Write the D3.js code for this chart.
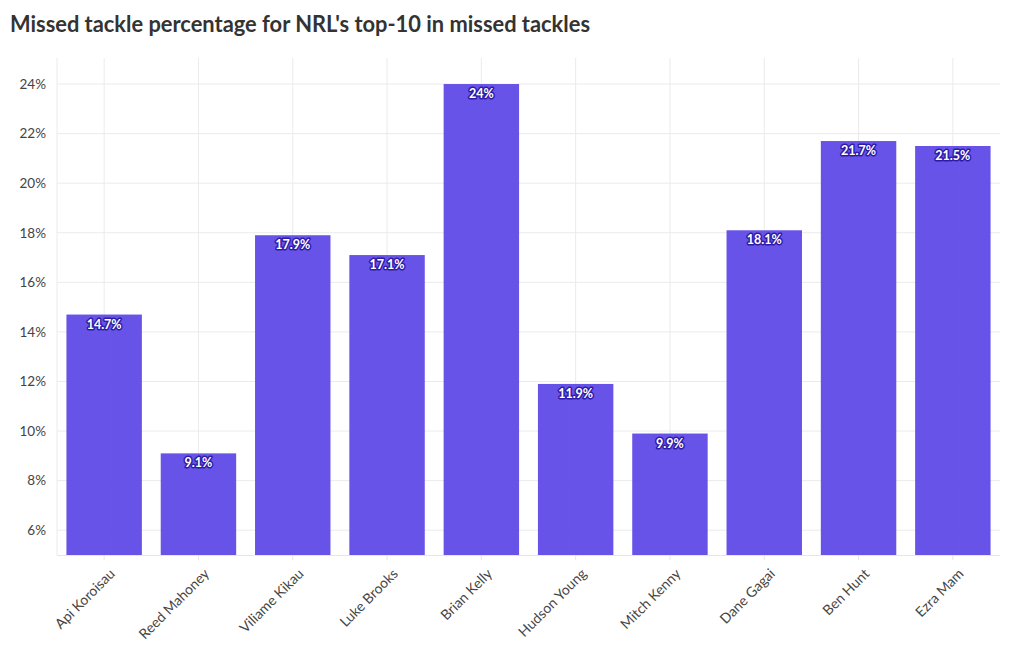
<!DOCTYPE html>
<html><head><meta charset="utf-8">
<script src="https://cdn.jsdelivr.net/npm/d3@7"></script>
<style>
body{margin:0;background:#fff;font-family:Lato,"Noto Sans",sans-serif;}
</style></head><body>
<svg id="c" width="1020" height="650"></svg>
<script>
const players = ["Api Koroisau","Reed Mahoney","Viliame Kikau","Luke Brooks","Brian Kelly","Hudson Young","Mitch Kenny","Dane Gagai","Ben Hunt","Ezra Mam"];
const missedPct = [14.7, 9.1, 17.9, 17.1, 24, 11.9, 9.9, 18.1, 21.7, 21.5];
const yTicks = [6, 8, 10, 12, 14, 16, 18, 20, 22, 24];
const title = "Missed tackle percentage for NRL's top-10 in missed tackles";

const svg = d3.select("#c");
const m = {l:57, r:1000, t:58, b:555};
const x = d3.scaleBand().domain(players).range([m.l, m.r]).paddingInner(0.2).paddingOuter(0.1);
const y = d3.scaleLinear().domain([5, 25.05]).range([m.b, m.t]);

svg.append("text").attr("x",10).attr("y",32).text(title)
  .attr("font-family","Lato, 'Noto Sans', sans-serif").attr("font-weight","bold")
  .attr("font-size",22).attr("fill","#333").attr("textLength",580).attr("lengthAdjust","spacingAndGlyphs");

const g = svg.append("g");
g.selectAll(".hg").data(yTicks).join("line")
  .attr("x1",m.l).attr("x2",m.r).attr("y1",d=>y(d)).attr("y2",d=>y(d))
  .attr("stroke","#ebebeb").attr("stroke-width",1);
g.selectAll(".vg").data(players).join("line")
  .attr("x1",d=>x(d)+x.bandwidth()/2).attr("x2",d=>x(d)+x.bandwidth()/2)
  .attr("y1",m.t).attr("y2",m.b).attr("stroke","#ebebeb");
g.append("line").attr("x1",m.l).attr("x2",m.l).attr("y1",m.t).attr("y2",m.b).attr("stroke","#ebebeb");

g.selectAll(".bar").data(players).join("rect")
  .attr("x",d=>x(d)).attr("width",x.bandwidth())
  .attr("y",(d,i)=>y(missedPct[i])).attr("height",(d,i)=>m.b - y(missedPct[i]))
  .attr("fill","#5b46e6").attr("fill-opacity",0.93);

g.append("line").attr("x1",m.l).attr("x2",m.r).attr("y1",m.b+0.5).attr("y2",m.b+0.5).attr("stroke","#e6e6e6");

const ya = svg.append("g").attr("transform",`translate(${m.l-8},0)`)
  .call(d3.axisLeft(y).tickValues(yTicks).tickFormat(d=>d+"%").tickSize(0));
ya.select(".domain").remove();
ya.selectAll("text").attr("font-family","Lato, 'Noto Sans', sans-serif").attr("font-size",13.5).attr("fill","#444");

const xa = svg.append("g").attr("transform",`translate(0,${m.b})`)
  .call(d3.axisBottom(x).tickSize(5));
xa.select(".domain").remove();
xa.selectAll("line").attr("stroke","#e6e6e6");
xa.selectAll("text").attr("font-family","Lato, 'Noto Sans', sans-serif").attr("font-size",14).attr("fill","#444")
  .attr("text-anchor","end").attr("dy",0).attr("transform","translate(6,14) rotate(-45)");

const fmt = v => (Number.isInteger(v) ? v : v.toFixed(1)) + "%";
const lab = svg.append("g");
lab.selectAll(".lo").data(players).join("text")
  .attr("x",d=>x(d)+x.bandwidth()/2).attr("y",(d,i)=>y(missedPct[i])+14)
  .attr("text-anchor","middle").attr("font-family","Lato, 'Noto Sans', sans-serif").attr("font-weight","bold")
  .attr("font-size",12.5).attr("fill","none").attr("stroke","#2e1ba8").attr("stroke-width",3).attr("stroke-linejoin","round")
  .text((d,i)=>fmt(missedPct[i]));
lab.selectAll(".li").data(players).join("text")
  .attr("x",d=>x(d)+x.bandwidth()/2).attr("y",(d,i)=>y(missedPct[i])+14)
  .attr("text-anchor","middle").attr("font-family","Lato, 'Noto Sans', sans-serif").attr("font-weight","bold")
  .attr("font-size",12.5).attr("fill","#fff")
  .text((d,i)=>fmt(missedPct[i]));
</script></body></html>
